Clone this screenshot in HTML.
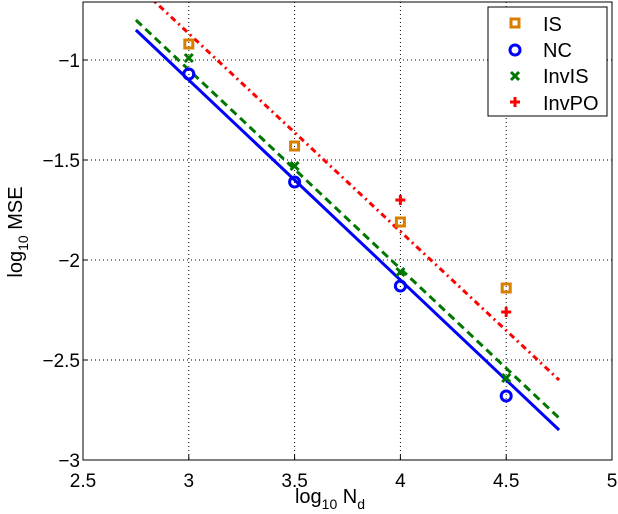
<!DOCTYPE html>
<html><head><meta charset="utf-8"><style>
body{margin:0;background:#fff;}
svg{display:block;font-family:"Liberation Sans",sans-serif;}
</style></head><body>
<svg id="chart" width="618" height="514" xmlns="http://www.w3.org/2000/svg">
<defs><clipPath id="pc"><rect x="83" y="2" width="529" height="458"/></clipPath></defs>
<g id="grid"></g>
<g id="lines" clip-path="url(#pc)"></g>
<g id="marks"></g>
<rect x="83" y="2" width="529" height="458" fill="none" stroke="#000" stroke-width="1"/>
<g id="ticks"></g>
<text x="330" y="503" font-size="20" text-anchor="middle">log<tspan font-size="14" dy="6">10</tspan><tspan dy="-6"> N</tspan><tspan font-size="14" dy="6">d</tspan></text>
<text transform="translate(22,232) rotate(-90)" font-size="20" text-anchor="middle">log<tspan font-size="14" dy="6">10</tspan><tspan dy="-6"> MSE</tspan></text>
<g>
<rect x="488" y="7" width="119" height="109" fill="#fff" stroke="#000" stroke-width="1"/>
<rect x="511" y="19" width="8" height="8" fill="none" stroke="#d97f00" stroke-width="3"/>
<text x="543" y="31" font-size="20">IS</text>
<circle cx="515" cy="50" r="5" fill="none" stroke="#0000ff" stroke-width="3"/>
<text x="543" y="57" font-size="20">NC</text>
<path d="M511 72 L519 80 M519 72 L511 80" stroke="#007700" stroke-width="3"/>
<text x="543" y="83" font-size="20">InvIS</text>
<path d="M510 102 L520 102 M515 97 L515 107" stroke="#ff0000" stroke-width="3"/>
<text x="543" y="110" font-size="20">InvPO</text>
</g>
</svg>
<script>
const xTicks=[2.5,3,3.5,4,4.5,5];
const yTicks=[-3,-2.5,-2,-1.5,-1];
const xTickLabels=["2.5","3","3.5","4","4.5","5"];
const yTickLabels=["\u22123","\u22122.5","\u22122","\u22121.5","\u22121"];
const xs=[3,3.5,4,4.5];
const isVals=[-0.92,-1.43,-1.81,-2.14];
const ncVals=[-1.07,-1.61,-2.13,-2.68];
const invisVals=[-0.99,-1.53,-2.06,-2.59];
const invpoX=[4,4.5];
const invpoVals=[-1.70,-2.26];
const lineX=[2.75,4.75];
const ncLine=[-0.85,-2.85];
const invisLine=[-0.80,-2.79];
const invpoLine=[-0.62,-2.60];
const X=v=>83+(v-2.5)/2.5*529;
const Y=v=>460-(v+3)/0.5*100;
const NS="http://www.w3.org/2000/svg";
function mk(tag,attrs,parent){const e=document.createElementNS(NS,tag);for(const k in attrs)e.setAttribute(k,attrs[k]);document.getElementById(parent).appendChild(e);return e;}
xTicks.forEach((t,i)=>{
 if(i>0&&i<xTicks.length-1){const g=mk('line',{x1:X(t),x2:X(t),y1:2,y2:460,stroke:'#000','stroke-dasharray':'1,3'},'grid');
 
 }
 const tk=mk('line',{x1:X(t),x2:X(t),y1:460,y2:455,stroke:'#000'},'ticks');
 
 
 const tx=mk('text',{x:X(t),y:487,'font-size':19,'text-anchor':'middle'},'ticks');tx.textContent=xTickLabels[i];
 
 
});
yTicks.forEach((t,i)=>{
 if(i>0){const g=mk('line',{x1:83,x2:612,y1:Y(t),y2:Y(t),stroke:'#000','stroke-dasharray':'1,3'},'grid');
 
 }
 const tk=mk('line',{x1:83,x2:88,y1:Y(t),y2:Y(t),stroke:'#000'},'ticks');
 
 
 const tx=mk('text',{x:80,y:Y(t)+7,'font-size':19,'text-anchor':'end'},'ticks');tx.textContent=yTickLabels[i];
 
 
});
function fit(vals,color,dash,name){const l=mk('line',{x1:X(lineX[0]),y1:Y(vals[0]),x2:X(lineX[1]),y2:Y(vals[1]),stroke:color,'stroke-width':3,'stroke-dasharray':dash},'lines');
 
 }
fit(invpoLine,'#ff0000','6,4,2,4','invpo-fit-line');
fit(invisLine,'#007700','8,5','invis-fit-line');
fit(ncLine,'#0000ff','none','nc-fit-line');
xs.forEach((x,i)=>{
 const r=mk('rect',{x:X(x)-4,y:Y(isVals[i])-4,width:8,height:8,fill:'none',stroke:'#d97f00','stroke-width':3},'marks');
 
 
 const c=mk('circle',{cx:X(x),cy:Y(ncVals[i]),r:5,fill:'none',stroke:'#0000ff','stroke-width':3},'marks');
 
 
 const cx=X(x),cy=Y(invisVals[i]);
 const p=mk('path',{d:`M${cx-4} ${cy-4}L${cx+4} ${cy+4}M${cx+4} ${cy-4}L${cx-4} ${cy+4}`,stroke:'#007700','stroke-width':3},'marks');
 
 
});
invpoX.forEach((x,i)=>{
 const cx=X(x),cy=Y(invpoVals[i]);
 const p=mk('path',{d:`M${cx-5} ${cy}L${cx+5} ${cy}M${cx} ${cy-5}L${cx} ${cy+5}`,stroke:'#ff0000','stroke-width':3},'marks');
 
 
});
</script>
</body></html>
